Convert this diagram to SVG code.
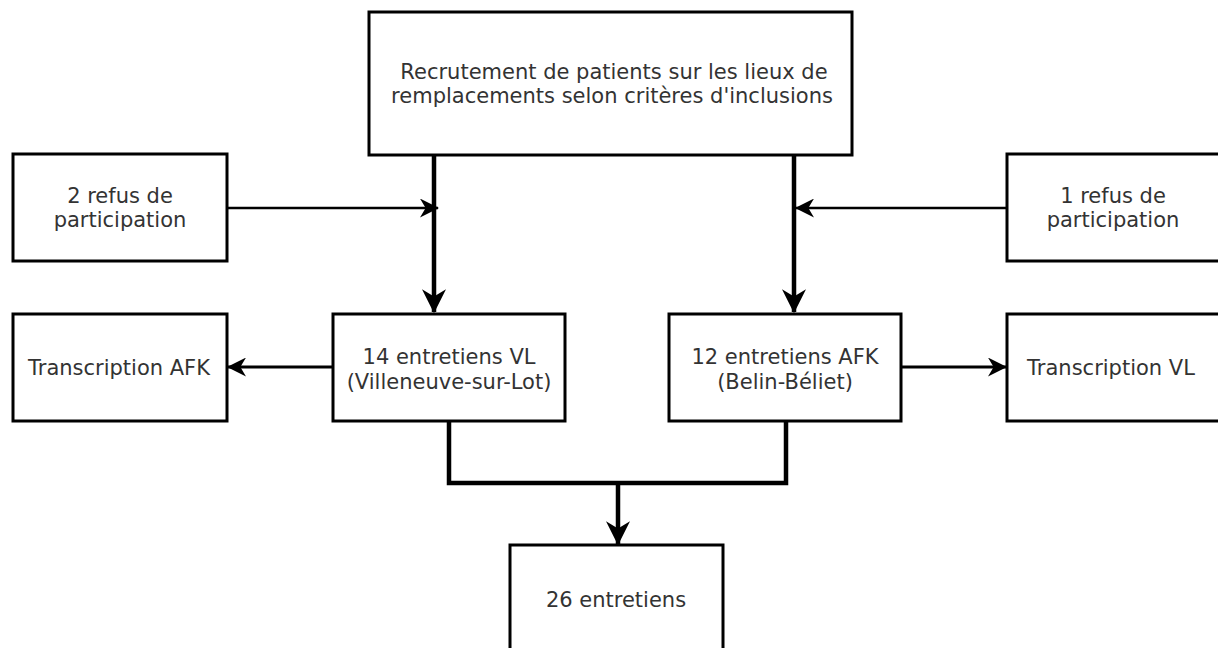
<svg xmlns="http://www.w3.org/2000/svg" width="1218" height="648" viewBox="0 0 1218 648">
<defs>
<style>
.box{fill:#fff;stroke:#000;stroke-width:3}
.t{font-family:"DejaVu Sans",Verdana,sans-serif;font-size:21px;fill:#333;text-anchor:middle}
.thick{fill:none;stroke:#000;stroke-width:4.5}
.thin{fill:none;stroke:#000;stroke-width:2.5}
.mid{fill:none;stroke:#000;stroke-width:3}
</style>
<marker id="ahb" viewBox="0 0 10 10" refX="9.5" refY="5" markerWidth="24" markerHeight="24" markerUnits="userSpaceOnUse" orient="auto"><path d="M0,0 L10,5 L0,10 L3,5 Z" fill="#000"/></marker>
<marker id="ahm" viewBox="0 0 10 10" refX="9.5" refY="5" markerWidth="19" markerHeight="19" markerUnits="userSpaceOnUse" orient="auto"><path d="M0,0 L10,5 L0,10 L3,5 Z" fill="#000"/></marker>
</defs>
<rect width="1218" height="648" fill="#fff"/>
<g id="connectors">
<path class="thick" d="M434,155 V312" marker-end="url(#ahb)"/>
<path class="thick" d="M794,155 V312" marker-end="url(#ahb)"/>
<path class="thin" d="M227,208 H438" marker-end="url(#ahm)"/>
<path class="thin" d="M1007,208 H796" marker-end="url(#ahm)"/>
<path class="mid" d="M333,367 H228" marker-end="url(#ahm)"/>
<path class="mid" d="M901,367 H1006" marker-end="url(#ahm)"/>
<path class="thick" d="M449,421 V483 H786 V421"/>
<path class="thick" d="M618,483 V544" marker-end="url(#ahb)"/>
</g>
<g id="recrutement">
<rect class="box" x="369" y="12" width="483" height="143"/>
<text class="t" x="614" y="79">Recrutement de patients sur les lieux de</text>
<text class="t" x="612" y="103">remplacements selon critères d'inclusions</text>
</g>
<g id="refus2">
<rect class="box" x="13" y="154" width="214" height="107"/>
<text class="t" x="120" y="203">2 refus de</text>
<text class="t" x="120" y="227">participation</text>
</g>
<g id="refus1">
<rect class="box" x="1007" y="154" width="213" height="107"/>
<text class="t" x="1113" y="203">1 refus de</text>
<text class="t" x="1113" y="227">participation</text>
</g>
<g id="transAFK">
<rect class="box" x="13" y="314" width="214" height="107"/>
<text class="t" x="119" y="375">Transcription AFK</text>
</g>
<g id="vl14">
<rect class="box" x="333" y="314" width="232" height="107"/>
<text class="t" x="449" y="364">14 entretiens VL</text>
<text class="t" x="449" y="389">(Villeneuve-sur-Lot)</text>
</g>
<g id="afk12">
<rect class="box" x="669" y="314" width="232" height="107"/>
<text class="t" x="785" y="364">12 entretiens AFK</text>
<text class="t" x="785" y="389">(Belin-Béliet)</text>
</g>
<g id="transVL">
<rect class="box" x="1007" y="314" width="213" height="107"/>
<text class="t" x="1111" y="375">Transcription VL</text>
</g>
<g id="total">
<rect class="box" x="510" y="545" width="213" height="108"/>
<text class="t" x="616" y="607">26 entretiens</text>
</g>
</svg>
